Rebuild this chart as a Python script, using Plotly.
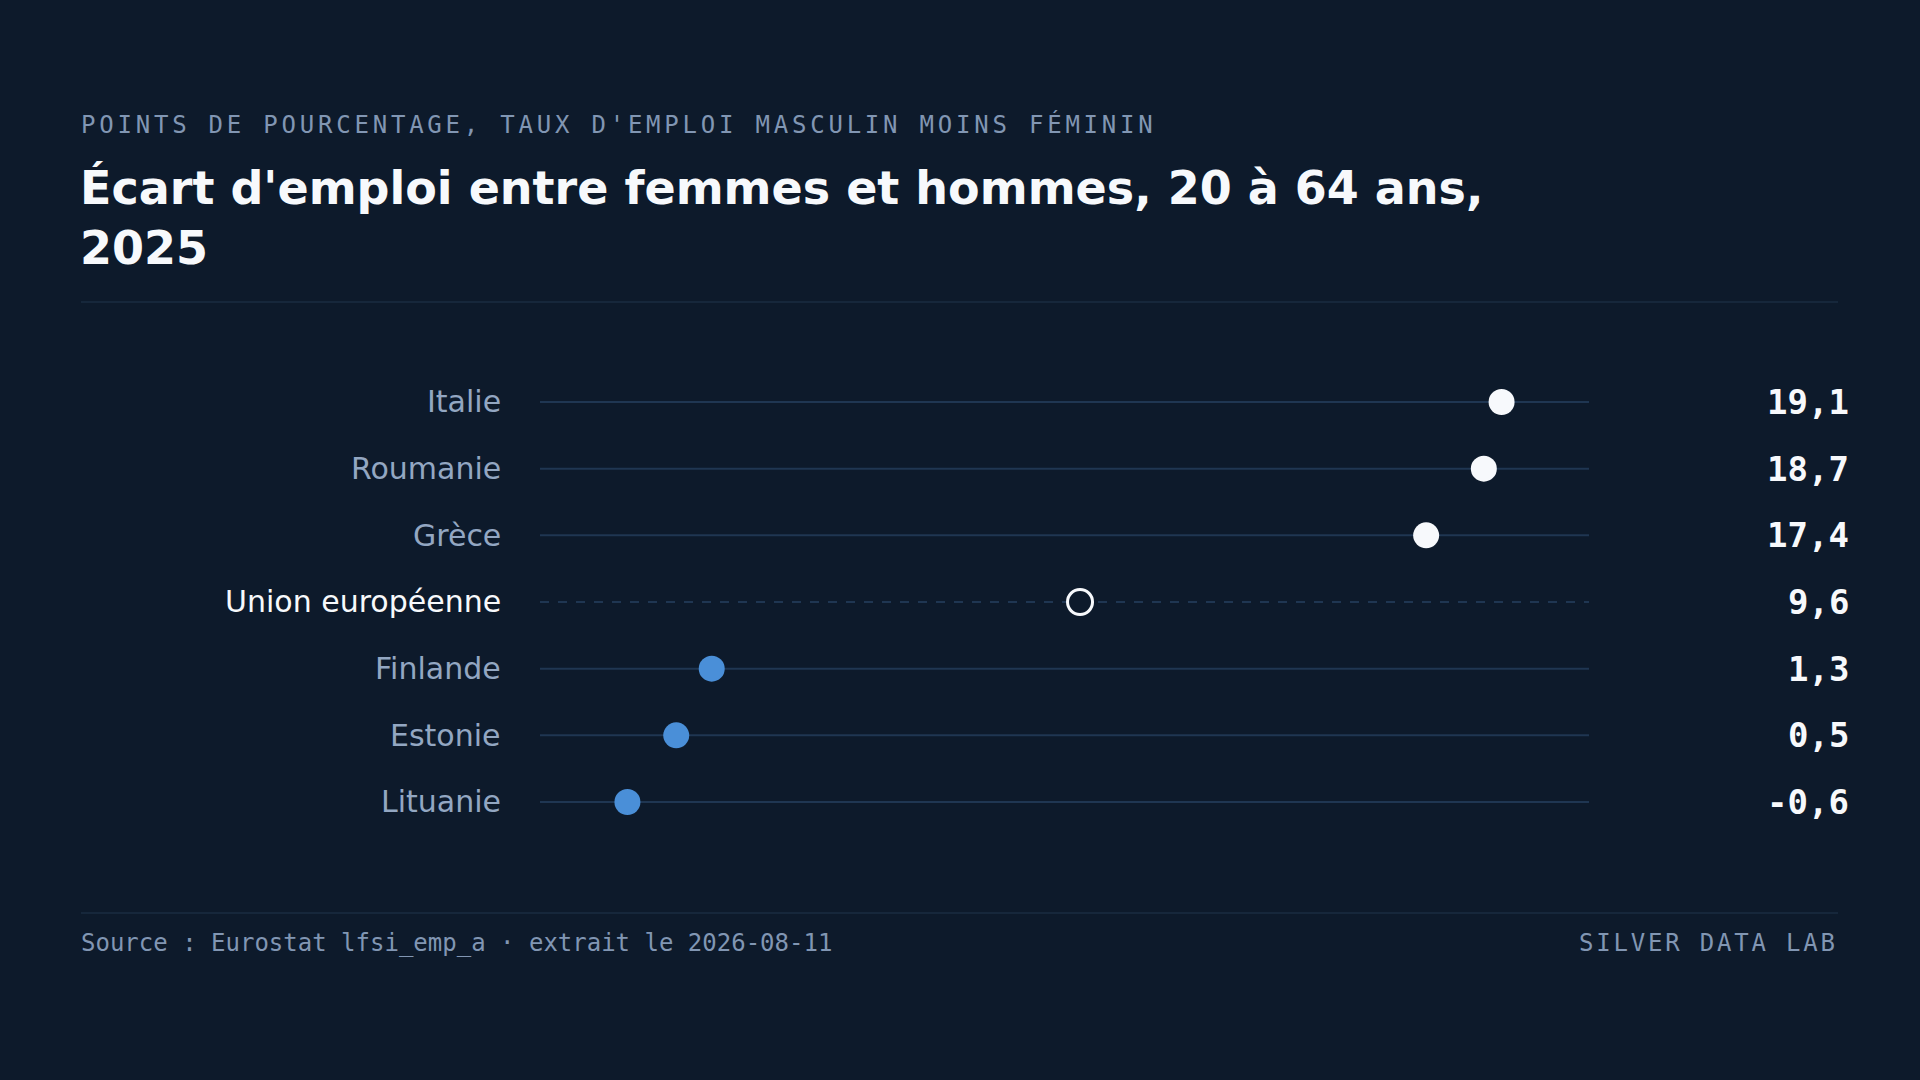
import plotly.graph_objects as go

# data
pays = ["Italie", "Roumanie", "Grèce", "Union européenne", "Finlande", "Estonie", "Lituanie"]
ecart = [19.1, 18.7, 17.4, 9.6, 1.3, 0.5, -0.6]
groupe = ["haut", "haut", "haut", "ue", "bas", "bas", "bas"]

surtitre = "POINTS DE POURCENTAGE, TAUX D'EMPLOI MASCULIN MOINS FÉMININ"
titre = "Écart d'emploi entre femmes et hommes, 20 à 64 ans,<br>2025"
source = "Source : Eurostat lfsi_emp_a · extrait le 2026-08-11"
signature = "SILVER DATA LAB"

BG = "#0d1a2b"
GRID = "#1f3652"
RULE = "#16273b"
MUTED = "#8196b3"
LABEL = "#93a7c2"
WHITE = "#f7f9fc"
BLUE = "#4a8fd8"

W, H = 1920, 1080
pad = 0.1 * (max(ecart) - min(ecart))
lo = min(ecart) - pad
hi = max(ecart) + pad


def py(px):
    # pixel from top -> paper y
    return 1 - px / H


def fmt(v):
    return f"{v:.1f}".replace(".", ",")


fig = go.Figure()

# guide lines per row
sx, sy, dx, dy = [], [], [], []
for p, g in zip(pays, groupe):
    if g == "ue":
        dx += [lo, hi, None]
        dy += [p, p, None]
    else:
        sx += [lo, hi, None]
        sy += [p, p, None]

fig.add_trace(go.Scatter(x=sx, y=sy, mode="lines", line=dict(color=GRID, width=2),
                         hoverinfo="skip", showlegend=False))
fig.add_trace(go.Scatter(x=dx, y=dy, mode="lines", line=dict(color=GRID, width=2, dash="dash"),
                         hoverinfo="skip", showlegend=False))

for g, col in [("haut", WHITE), ("bas", BLUE)]:
    xs = [v for v, gg in zip(ecart, groupe) if gg == g]
    ys = [p for p, gg in zip(pays, groupe) if gg == g]
    fig.add_trace(go.Scatter(x=xs, y=ys, mode="markers",
                             marker=dict(size=26, color=col, line=dict(width=0)),
                             showlegend=False))

xs = [v for v, gg in zip(ecart, groupe) if gg == "ue"]
ys = [p for p, gg in zip(pays, groupe) if gg == "ue"]
fig.add_trace(go.Scatter(x=xs, y=ys, mode="markers",
                         marker=dict(size=25, color=BG, line=dict(width=3, color=WHITE)),
                         showlegend=False))

ann = []
for p, v, g in zip(pays, ecart, groupe):
    ann.append(dict(xref="paper", yref="y", x=503 / W, y=p, xanchor="right", yanchor="middle",
                    text=p, showarrow=False,
                    font=dict(family="DejaVu Sans", size=30, color=WHITE if g == "ue" else LABEL)))
    ann.append(dict(xref="paper", yref="y", x=1851 / W, y=p, xanchor="right", yanchor="middle",
                    text="<b>" + fmt(v) + "</b>", showarrow=False,
                    font=dict(family="DejaVu Sans Mono", size=34, color=WHITE)))

ann.append(dict(xref="paper", yref="paper", x=78.5 / W, y=py(124.5), xanchor="left", yanchor="middle",
                text='<span style="letter-spacing:3.78px">' + surtitre + "</span>", showarrow=False,
                font=dict(family="DejaVu Sans Mono", size=24, color=MUTED)))
ann.append(dict(xref="paper", yref="paper", x=78 / W, y=py(218), xanchor="left", yanchor="middle",
                text="<b>" + titre + "</b>", showarrow=False, align="left",
                font=dict(family="DejaVu Sans", size=46, color=WHITE)))
ann.append(dict(xref="paper", yref="paper", x=78.5 / W, y=py(943), xanchor="left", yanchor="middle",
                text=source, showarrow=False,
                font=dict(family="DejaVu Sans Mono", size=24, color=MUTED)))
ann.append(dict(xref="paper", yref="paper", x=1840 / W, y=py(943), xanchor="right", yanchor="middle",
                text='<span style="letter-spacing:2.8px">' + signature + "</span>", showarrow=False,
                font=dict(family="DejaVu Sans Mono", size=24, color=MUTED)))

shapes = [
    dict(type="line", xref="paper", yref="paper", x0=81 / W, x1=1838 / W, y0=py(302), y1=py(302),
         line=dict(color=RULE, width=2)),
    dict(type="line", xref="paper", yref="paper", x0=81 / W, x1=1838 / W, y0=py(913), y1=py(913),
         line=dict(color=RULE, width=2)),
]

row = (802 - 402) / (len(pays) - 1)
fig.update_layout(
    width=W, height=H,
    margin=dict(l=0, r=0, t=0, b=0),
    paper_bgcolor=BG, plot_bgcolor=BG,
    xaxis=dict(domain=[540 / W, 1589 / W], range=[lo, hi], visible=False),
    yaxis=dict(domain=[py(802 + row / 2), py(402 - row / 2)], type="category",
               categoryorder="array", categoryarray=pays[::-1],
               range=[-0.5, len(pays) - 0.5], visible=False),
    annotations=ann, shapes=shapes,
    hovermode=False,
)

fig.write_html("out.html", config={"displayModeBar": False},
               post_script="document.body.style.margin='0';")
